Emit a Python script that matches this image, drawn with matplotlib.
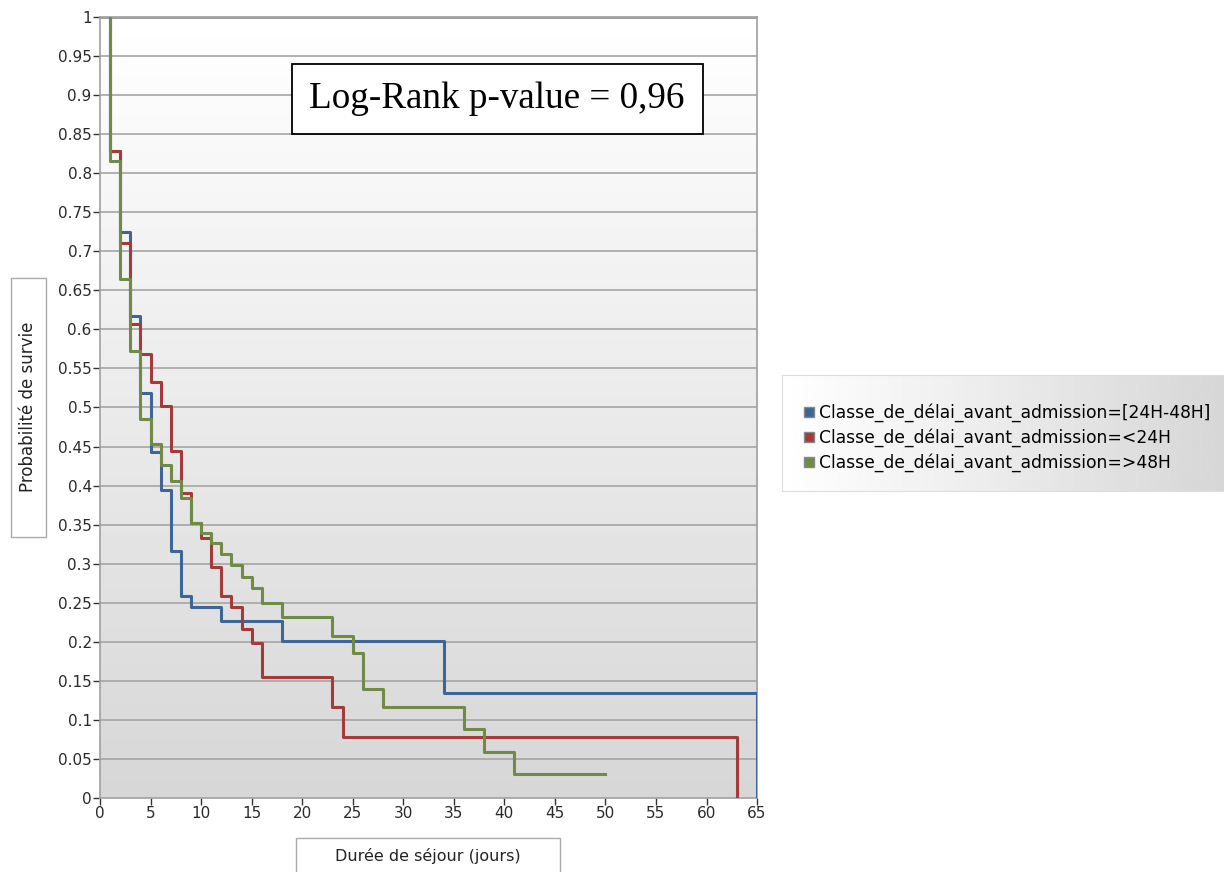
import numpy as np
import matplotlib
matplotlib.use("Agg")
import matplotlib.pyplot as plt
from matplotlib.lines import Line2D
from matplotlib.patches import Rectangle

# Kaplan-Meier steps
t_24_48 = [1, 1, 2, 3, 4, 5, 6, 7, 8, 9, 12, 18, 34, 65]
s_24_48 = [1, 0.828, 0.725, 0.617, 0.519, 0.443, 0.394, 0.316, 0.259, 0.245,
           0.227, 0.201, 0.134, 0]

t_lt24 = [1, 1, 2, 3, 4, 5, 6, 7, 8, 9, 10, 11, 12, 13, 14, 15, 16, 23, 24, 63]
s_lt24 = [1, 0.828, 0.71, 0.607, 0.568, 0.532, 0.502, 0.444, 0.39, 0.352,
          0.333, 0.296, 0.258, 0.245, 0.216, 0.198, 0.155, 0.117, 0.078, 0]

t_gt48 = [1, 1, 2, 3, 4, 5, 6, 7, 8, 9, 10, 11, 12, 13, 14, 15, 16, 18, 23,
          25, 26, 28, 36, 38, 41, 50]
s_gt48 = [1, 0.815, 0.665, 0.572, 0.485, 0.453, 0.426, 0.406, 0.384, 0.352,
          0.339, 0.326, 0.313, 0.298, 0.283, 0.269, 0.25, 0.232, 0.208, 0.186,
          0.139, 0.117, 0.088, 0.059, 0.031, 0.031]

labels = ["Classe_de_délai_avant_admission=[24H-48H]",
          "Classe_de_délai_avant_admission=<24H",
          "Classe_de_délai_avant_admission=>48H"]
colors = ["#3d6596", "#a33b3b", "#6f8b47"]

x_ticks = list(range(0, 70, 5))
y_ticks = [i * 0.05 for i in range(21)]
y_ticklabels = ["0", "0.05", "0.1", "0.15", "0.2", "0.25", "0.3", "0.35", "0.4",
                "0.45", "0.5", "0.55", "0.6", "0.65", "0.7", "0.75", "0.8",
                "0.85", "0.9", "0.95", "1"]

fig = plt.figure(figsize=(12.24, 8.72), dpi=100)
ax = fig.add_axes([0.0817, 0.0849, 0.5368, 0.8956])

# plot area gradient
grad = np.linspace(1.0, 0.84, 256).reshape(-1, 1)
ax.imshow(grad, cmap="gray", vmin=0, vmax=1, aspect="auto",
          extent=[0, 65, 0, 1], origin="upper", zorder=0)

for y in y_ticks[1:]:
    ax.axhline(y, color="#a5a5a5", lw=1.2, zorder=1)
ax.axhline(1, color="#a0a0a0", lw=2.2, zorder=1)

for t, s, c in zip([t_24_48, t_lt24, t_gt48], [s_24_48, s_lt24, s_gt48], colors):
    ax.plot(t, s, drawstyle="steps-post", color=c, lw=2.2, zorder=3)

ax.set_xlim(0, 65)
ax.set_ylim(0, 1)
ax.set_xticks(x_ticks)
ax.set_yticks(y_ticks)
ax.set_yticklabels(y_ticklabels)
ax.tick_params(direction="out", length=5, width=1, color="#333333",
               labelsize=11, labelcolor="#2a2a2a", pad=1)
for sp in ax.spines.values():
    sp.set_color("#a0a0a0")
    sp.set_linewidth(1.2)

# Log-rank text box
ax.text(0.6043, 0.895, "Log-Rank p-value = 0,96", transform=ax.transAxes,
        family="Liberation Serif", fontsize=26.7, ha="center", va="center",
        zorder=5,
        bbox=dict(boxstyle="square,pad=0.48", fc="white", ec="black", lw=1.3))

# axis title boxes
fig.patches.append(Rectangle((11 / 1224, 1 - 537 / 872), 35 / 1224, 259 / 872,
                             transform=fig.transFigure, fc="white",
                             ec="#aaaaaa", lw=1))
fig.text(28.5 / 1224, 1 - 407 / 872, "Probabilité de survie", rotation=90,
         ha="center", va="center", fontsize=12, color="#222222")
fig.patches.append(Rectangle((296 / 1224, -0.01), 264 / 1224, 34 / 872 + 0.01,
                             transform=fig.transFigure, fc="white",
                             ec="#aaaaaa", lw=1))
fig.text(428 / 1224, 1 - 856 / 872, "Durée de séjour (jours)", ha="center",
         va="center", fontsize=11.5, color="#222222")

# legend box with horizontal gradient
lax = fig.add_axes([782 / 1224, 1 - 491 / 872, 442 / 1224, 116 / 872])
hgrad = np.linspace(1.0, 0.84, 256).reshape(1, -1)
lax.imshow(hgrad, cmap="gray", vmin=0, vmax=1, aspect="auto",
           extent=[0, 1, 0, 1], zorder=0)
lax.set_xlim(0, 1)
lax.set_ylim(0, 1)
lax.set_xticks([])
lax.set_yticks([])
for sp in lax.spines.values():
    sp.set_color("#dddddd")
handles = [Line2D([], [], ls="none", marker="s", markersize=7, color=c,
                  markeredgecolor="#888888") for c in colors]
lax.legend(handles, labels, loc="center left", bbox_to_anchor=(0.035, 0.46),
           frameon=False, fontsize=12.3, handlelength=0.6, handletextpad=0.25,
           labelspacing=0.35, borderaxespad=0.0)

fig.savefig("out.png", dpi=100)
